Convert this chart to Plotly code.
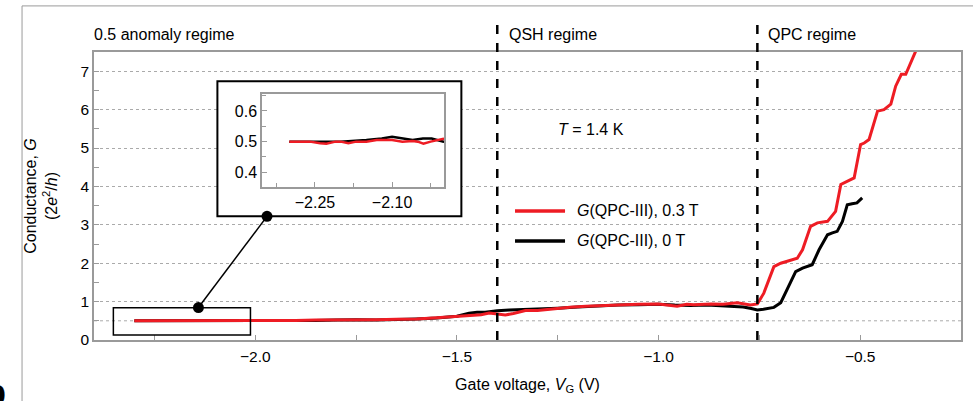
import plotly.graph_objects as go

# ---------------- data ----------------
red_v = [-2.30, -2.28, -2.26, -2.24, -2.228, -2.21, -2.20, -2.185, -2.17, -2.15, -2.13, -2.10,
         -2.08, -2.06, -2.05, -2.039, -2.025, -2.00, -1.95, -1.90, -1.85, -1.80, -1.75, -1.70,
         -1.65, -1.60, -1.55, -1.50, -1.47, -1.44, -1.42, -1.40, -1.38, -1.36, -1.33, -1.30,
         -1.27, -1.25, -1.22, -1.18, -1.14, -1.10, -1.05, -1.00, -0.954, -0.93, -0.913, -0.87,
         -0.84, -0.805, -0.785, -0.772, -0.755, -0.739, -0.714, -0.697, -0.656, -0.643, -0.623,
         -0.606, -0.581, -0.561, -0.548, -0.532, -0.515, -0.499, -0.49, -0.478, -0.457, -0.441,
         -0.424, -0.412, -0.398, -0.387, -0.375, -0.362]
red_g = [0.50, 0.50, 0.50, 0.495, 0.493, 0.50, 0.50, 0.495, 0.50, 0.50, 0.505, 0.505,
         0.50, 0.502, 0.50, 0.493, 0.50, 0.509, 0.50, 0.51, 0.52, 0.52, 0.53, 0.53,
         0.54, 0.55, 0.58, 0.61, 0.63, 0.66, 0.70, 0.67, 0.65, 0.69, 0.77, 0.77,
         0.80, 0.83, 0.85, 0.88, 0.90, 0.92, 0.93, 0.94, 0.88, 0.93, 0.92, 0.94,
         0.93, 0.97, 0.93, 0.91, 0.94, 1.22, 1.91, 2.00, 2.13, 2.35, 2.96,
         3.05, 3.09, 3.35, 4.05, 4.13, 4.22, 5.09, 5.13, 5.22, 5.96, 6.00,
         6.14, 6.61, 6.92, 6.92, 7.22, 7.53]

black_v = [-2.30, -2.25, -2.20, -2.15, -2.12, -2.10, -2.08, -2.06, -2.04, -2.023, -2.00, -1.95,
           -1.90, -1.85, -1.80, -1.75, -1.70, -1.65, -1.60, -1.55, -1.50, -1.47, -1.45, -1.43,
           -1.40, -1.37, -1.33, -1.30, -1.25, -1.20, -1.15, -1.10, -1.05, -1.00, -0.96, -0.92,
           -0.88, -0.85, -0.82, -0.79, -0.77, -0.755, -0.74, -0.714, -0.697, -0.677, -0.66,
           -0.643, -0.619, -0.602, -0.581, -0.569, -0.557, -0.544, -0.532, -0.52, -0.508, -0.495]
black_g = [0.50, 0.50, 0.50, 0.505, 0.51, 0.516, 0.51, 0.505, 0.51, 0.51, 0.50, 0.50,
           0.50, 0.51, 0.52, 0.53, 0.52, 0.53, 0.55, 0.57, 0.62, 0.70, 0.72, 0.72,
           0.76, 0.78, 0.79, 0.80, 0.83, 0.86, 0.89, 0.91, 0.92, 0.93, 0.91, 0.90,
           0.91, 0.89, 0.88, 0.86, 0.82, 0.78, 0.80, 0.85, 0.97, 1.39, 1.78,
           1.87, 1.96, 2.35, 2.74, 2.79, 2.83, 3.09, 3.52, 3.55, 3.57, 3.70]

regime_bounds = [-1.40, -0.755]
regime_labels = ["0.5 anomaly regime", "QSH regime", "QPC regime"]
regime_label_px = [-0.002, 0.476, 0.775]   # paper x of label left edges

main_xticks = [-2.0, -1.5, -1.0, -0.5]
main_yticks = [0, 1, 2, 3, 4, 5, 6, 7]
inset_xticks = [-2.25, -2.10]
inset_yticks = [0.4, 0.5, 0.6]

zoom_box_x = [-2.352, -2.012]
zoom_box_y = [0.13, 0.84]
connector_x = [-2.141, -1.971]
connector_y = [0.845, 3.22]
inset_frame_x = [-2.094, -1.489]
inset_frame_y = [3.22, 6.74]

RED = "#ee1c24"
FONT = "Liberation Sans, Arial, sans-serif"
GRAY = "#9a9a9a"

fig = go.Figure()

# main traces
fig.add_trace(go.Scatter(x=black_v, y=black_g, mode="lines",
                         line=dict(color="black", width=3), showlegend=False))
fig.add_trace(go.Scatter(x=red_v, y=red_g, mode="lines",
                         line=dict(color=RED, width=3), showlegend=False))
# connector with end dots
fig.add_trace(go.Scatter(x=connector_x, y=connector_y, mode="lines+markers",
                         line=dict(color="black", width=1.5),
                         marker=dict(color="black", size=11), showlegend=False))

# inset traces
fig.add_trace(go.Scatter(x=black_v, y=black_g, mode="lines", xaxis="x2", yaxis="y2",
                         line=dict(color="black", width=2.5), showlegend=False))
fig.add_trace(go.Scatter(x=red_v, y=red_g, mode="lines", xaxis="x2", yaxis="y2",
                         line=dict(color=RED, width=2.5), showlegend=False))

shapes = []
# white inset frame (between grid and traces of main subplot)
shapes.append(dict(type="rect", xref="x", yref="y",
                   x0=inset_frame_x[0], x1=inset_frame_x[1],
                   y0=inset_frame_y[0], y1=inset_frame_y[1],
                   fillcolor="white", line=dict(color="black", width=2), layer="between"))
# zoom rectangle
shapes.append(dict(type="rect", xref="x", yref="y",
                   x0=zoom_box_x[0], x1=zoom_box_x[1], y0=zoom_box_y[0], y1=zoom_box_y[1],
                   line=dict(color="black", width=1.5), layer="above"))
# regime separators
for b in regime_bounds:
    shapes.append(dict(type="line", xref="x", yref="paper", x0=b, x1=b, y0=0, y1=1.118,
                       line=dict(color="black", width=2.5, dash="dash")))
# 0.5 gridline in main plot
shapes.append(dict(type="line", xref="paper", yref="y", x0=0, x1=1, y0=0.5, y1=0.5,
                   line=dict(color="#aaaaaa", width=1, dash="dot"), layer="below"))
# 0.5 reference line in inset
shapes.append(dict(type="line", xref="x2 domain", yref="y2", x0=0, x1=1, y0=0.5, y1=0.5,
                   line=dict(color="#777777", width=1, dash="dot"), layer="below"))
# manual legend samples
shapes.append(dict(type="line", xref="paper", yref="paper", x0=0.4856, x1=0.5433,
                   y0=0.448, y1=0.448, line=dict(color=RED, width=3.5)))
shapes.append(dict(type="line", xref="paper", yref="paper", x0=0.4856, x1=0.5433,
                   y0=0.344, y1=0.344, line=dict(color="black", width=3.5)))
# outer panel frame lines
shapes.append(dict(type="line", xref="paper", yref="paper", x0=-0.083, x1=1.02,
                   y0=1.16, y1=1.16, line=dict(color=GRAY, width=1)))
shapes.append(dict(type="line", xref="paper", yref="paper", x0=-0.083, x1=-0.083,
                   y0=1.16, y1=-0.25, line=dict(color=GRAY, width=1)))

annotations = []
for lab, lx in zip(regime_labels, regime_label_px):
    annotations.append(dict(text=lab, x=lx, y=1.0625, xref="paper", yref="paper",
                            xanchor="left", yanchor="middle", showarrow=False,
                            font=dict(size=16, color="black", family=FONT)))
annotations.append(dict(text="<i>T</i> = 1.4 K", x=0.573, y=0.7326, xref="paper", yref="paper",
                        xanchor="center", yanchor="middle", showarrow=False,
                        font=dict(size=16, color="black", family=FONT)))
annotations.append(dict(text="<i>G</i>(QPC-III), 0.3 T", x=0.5548, y=0.448, xref="paper",
                        yref="paper", xanchor="left", yanchor="middle", showarrow=False,
                        font=dict(size=16, color="black", family=FONT)))
annotations.append(dict(text="<i>G</i>(QPC-III), 0 T", x=0.5548, y=0.344, xref="paper",
                        yref="paper", xanchor="left", yanchor="middle", showarrow=False,
                        font=dict(size=16, color="black", family=FONT)))
annotations.append(dict(text="<b>b</b>", x=-0.114, y=-0.184, xref="paper", yref="paper",
                        xanchor="center", yanchor="middle", showarrow=False,
                        font=dict(size=36, color="black", family=FONT)))

fig.update_layout(
    width=973, height=401,
    margin=dict(l=94, r=12, t=52, b=61),
    paper_bgcolor="white", plot_bgcolor="white",
    font=dict(family=FONT, size=16, color="black"),
    shapes=shapes, annotations=annotations,
    xaxis=dict(range=[-2.40, -0.25], tickvals=main_xticks, tickformat=".1f",
               ticks="inside", ticklen=5, tickcolor=GRAY, automargin=False,
               ticklabelstandoff=2,
               minor=dict(dtick=0.25, tick0=-2.0, ticks="inside", ticklen=5, tickcolor=GRAY),
               showline=True, linecolor=GRAY, linewidth=1.5, mirror=True,
               showgrid=False, zeroline=False,
               tickfont=dict(size=15.5),
               title=dict(text="Gate voltage, <i>V</i><sub>G</sub> (V)", font=dict(size=16),
                          standoff=14)),
    yaxis=dict(range=[0, 7.5], tickvals=main_yticks, automargin=False,
               ticks="inside", ticklen=5, tickcolor=GRAY,
               minor=dict(dtick=0.5, tick0=0, ticks="inside", ticklen=5, tickcolor=GRAY),
               showline=True, linecolor=GRAY, linewidth=1.5, mirror=True,
               showgrid=True, gridcolor="#aaaaaa", griddash="dot", gridwidth=1,
               zeroline=False, tickfont=dict(size=15.5),
               title=dict(text="Conductance, <i>G</i><br>(2<i>e</i><sup>2</sup>/<i>h</i>)",
                          font=dict(size=16), standoff=19)),
    xaxis2=dict(domain=[0.1938, 0.4037], anchor="y2", range=[-2.353, -1.999],
                tickvals=inset_xticks, ticktext=["\u22122.25", "\u22122.10"],
                ticks="inside", ticklen=5, tickcolor=GRAY, automargin=False,
                minor=dict(dtick=0.075, tick0=-2.25, ticks="inside", ticklen=4, tickcolor=GRAY),
                showline=True, linecolor=GRAY, linewidth=1.5, mirror=True,
                showgrid=False, zeroline=False, tickfont=dict(size=16)),
    yaxis2=dict(domain=[0.531, 0.854], anchor="x2", range=[0.352, 0.655],
                tickvals=inset_yticks, ticktext=["0.4", "0.5", "0.6"],
                ticks="inside", ticklen=5, tickcolor=GRAY, automargin=False,
                minor=dict(dtick=0.05, tick0=0.4, ticks="inside", ticklen=4, tickcolor=GRAY),
                showline=True, linecolor=GRAY, linewidth=1.5, mirror=True,
                showgrid=False, zeroline=False, tickfont=dict(size=16)),
)

fig.write_html("out.html", config={"displayModeBar": False},
               post_script="document.body.style.margin='0';document.body.style.overflow='hidden';")
